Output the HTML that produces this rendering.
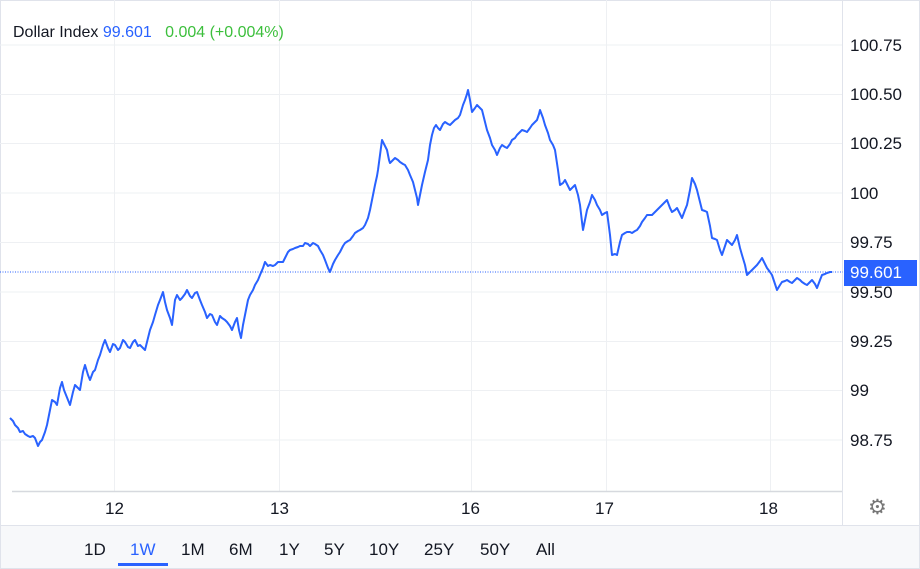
<!DOCTYPE html>
<html><head><meta charset="utf-8"><style>
body{margin:0;width:920px;height:569px;background:#fff;font-family:"Liberation Sans",Arial,sans-serif;overflow:hidden;position:relative}
.t{position:absolute;white-space:nowrap}
.y{position:absolute;left:850px;font-size:17px;color:#131722}
.x{position:absolute;top:499px;font-size:17px;color:#131722}
</style></head><body>
<svg width="920" height="569" style="position:absolute;left:0;top:0">
<rect x="0.5" y="0.5" width="919" height="568" fill="none" stroke="#e0e3eb"/>
<g stroke="#eef0f3" stroke-width="1">
<line x1="0" y1="45" x2="843" y2="45"/><line x1="0" y1="94.5" x2="843" y2="94.5"/><line x1="0" y1="143.5" x2="843" y2="143.5"/><line x1="0" y1="193" x2="843" y2="193"/><line x1="0" y1="242.5" x2="843" y2="242.5"/><line x1="0" y1="292" x2="843" y2="292"/><line x1="0" y1="341.5" x2="843" y2="341.5"/><line x1="0" y1="390.5" x2="843" y2="390.5"/><line x1="0" y1="440" x2="843" y2="440"/>
<line x1="114.5" y1="0" x2="114.5" y2="492"/><line x1="279.5" y1="0" x2="279.5" y2="492"/><line x1="471.5" y1="0" x2="471.5" y2="492"/><line x1="606.5" y1="0" x2="606.5" y2="492"/><line x1="770.5" y1="0" x2="770.5" y2="492"/>
</g>
<line x1="842.5" y1="0" x2="842.5" y2="525" stroke="#e0e3eb"/>
<line x1="12" y1="491.5" x2="842" y2="491.5" stroke="#d6d9de" stroke-width="1.5"/>
<rect x="1" y="525" width="918" height="43" fill="#f7f8fa"/>
<line x1="0" y1="525.5" x2="920" y2="525.5" stroke="#e0e3eb"/>
<line x1="0" y1="272" x2="843" y2="272" stroke="#2962ff" stroke-width="1" stroke-dasharray="1,1.5"/>
<polyline fill="none" stroke="#2962ff" stroke-width="2" stroke-linejoin="round" points="10,418 13,421 15,425 18,428 20,432 23,431 25,434 28,436 30,437 33,436 35,438 38,446 40,442 42,440 45,432 47,425 50,410 52,400 55,402 57,405 60,388 62,382 64,390 66,395 68,400 70,405 73,392 75,385 78,388 80,390 83,372 85,365 88,375 90,380 93,372 95,370 98,360 100,355 103,345 105,340 108,348 110,352 113,344 115,345 118,350 120,348 123,340 125,342 128,347 130,348 133,342 135,340 138,346 140,345 143,348 145,350 148,338 150,330 153,322 155,315 158,305 160,300 163,292 165,302 167,310 170,318 172,325 175,300 177,295 180,300 182,298 185,294 187,290 190,296 192,298 195,293 197,292 200,300 202,305 205,312 207,318 210,314 212,315 215,322 217,325 220,316 222,318 225,320 227,322 230,326 232,330 235,322 237,318 239,330 241,338 243,325 245,315 248,300 250,295 253,290 255,285 258,280 260,275 263,268 265,262 268,266 270,265 273,266 275,265 278,262 280,262 283,262 285,258 288,252 290,250 293,249 295,248 298,247 300,246 303,246 305,243 308,244 310,246 313,243 315,244 318,246 320,250 323,255 325,260 328,268 330,272 333,264 335,260 338,255 340,252 343,246 345,243 348,241 350,240 353,236 355,233 358,231 360,230 363,228 365,225 368,218 370,210 373,195 375,185 377,176 378,170 380,155 382,140 385,146 387,150 389,160 390,163 393,160 395,158 398,160 400,162 403,164 405,165 408,170 410,175 413,182 415,190 417,198 418,205 420,195 422,185 425,172 428,160 430,145 432,135 434,128 436,125 438,128 440,130 443,124 445,122 448,124 450,125 453,122 455,120 458,118 460,115 463,105 465,100 467,94 468,90 470,100 472,112 475,108 477,105 480,108 482,110 485,122 487,130 490,138 492,145 495,150 497,155 500,148 502,145 505,147 507,148 510,144 512,140 515,138 517,135 520,132 522,130 525,131 527,132 530,128 532,125 535,122 537,120 539,114 540,110 543,118 545,125 548,133 550,140 553,145 555,150 558,170 560,185 563,183 565,180 568,186 570,190 573,187 575,185 578,195 580,205 582,222 583,230 585,220 587,210 590,202 592,195 595,200 597,205 600,210 602,215 605,213 607,212 610,235 612,255 615,254 617,255 620,242 622,235 625,233 627,232 630,232 632,233 635,231 637,230 640,226 642,222 645,218 647,215 650,215 652,215 655,212 657,210 660,207 662,205 665,202 667,200 670,208 672,212 675,210 677,208 680,214 682,218 685,210 687,205 690,190 692,178 695,184 697,190 700,202 702,210 705,211 707,212 710,226 712,238 715,239 717,240 720,250 722,255 725,246 727,240 730,243 732,245 735,240 737,235 740,248 742,255 745,265 747,275 750,272 752,270 755,267 757,265 760,261 762,258 765,264 767,268 770,272 772,275 775,284 777,290 780,285 782,282 785,281 787,280 790,282 792,283 795,280 797,278 800,280 802,282 805,284 807,285 810,282 812,280 815,284 817,288 820,280 822,275 825,274 827,273 830,272 832,272"/>
<rect x="844" y="260" width="73" height="26" fill="#2962ff"/>
<rect x="118" y="563" width="50" height="3" fill="#2962ff"/>
</svg>
<div class="t" style="left:13px;top:24px;font-size:16px;color:#131722">Dollar Index <span style="color:#2962ff">99.601</span> &nbsp;&nbsp;<span style="color:#3cbf3c">0.004 (+0.004%)</span></div>
<div class="y" style="top:36px">100.75</div>
<div class="y" style="top:85px">100.50</div>
<div class="y" style="top:134px">100.25</div>
<div class="y" style="top:184px">100</div>
<div class="y" style="top:233px">99.75</div>
<div class="y" style="top:283px">99.50</div>
<div class="y" style="top:332px">99.25</div>
<div class="y" style="top:381px">99</div>
<div class="y" style="top:431px">98.75</div>
<div class="t" style="left:850px;top:263px;font-size:17px;color:#fff">99.601</div>
<div class="x" style="left:105px">12</div>
<div class="x" style="left:270px">13</div>
<div class="x" style="left:461px">16</div>
<div class="x" style="left:595px">17</div>
<div class="x" style="left:759px">18</div>
<div class="t" style="left:868px;top:495px;font-size:21px;color:#777">⚙</div>
<div class="t" style="left:84px;top:540px;font-size:17px;color:#131722">
<span style="position:absolute;left:0">1D</span><span style="position:absolute;left:46px;color:#2962ff">1W</span><span style="position:absolute;left:97px">1M</span><span style="position:absolute;left:145px">6M</span><span style="position:absolute;left:195px">1Y</span><span style="position:absolute;left:240px">5Y</span><span style="position:absolute;left:285px">10Y</span><span style="position:absolute;left:340px">25Y</span><span style="position:absolute;left:396px">50Y</span><span style="position:absolute;left:452px">All</span></div>
</body></html>
